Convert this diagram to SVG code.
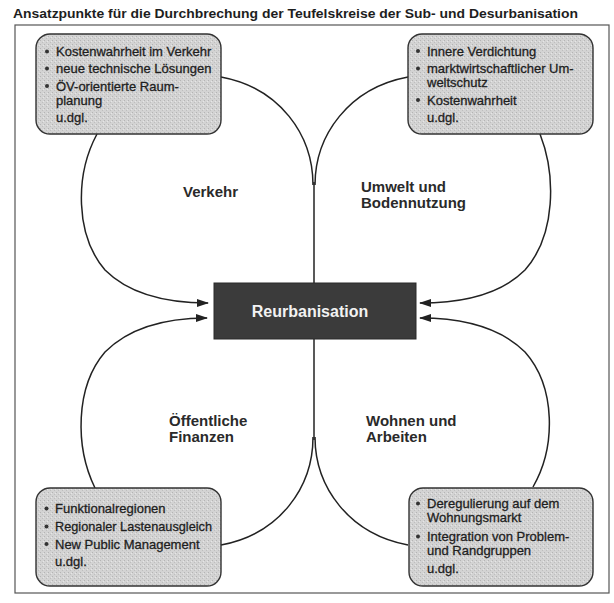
<svg xmlns="http://www.w3.org/2000/svg" width="614" height="603" viewBox="0 0 614 603">
<defs>
<pattern id="stip" width="4" height="4" patternUnits="userSpaceOnUse">
<rect width="4" height="4" fill="#d3d3d3"/>
<rect x="0" y="0" width="1" height="1" fill="#b4b4b4"/>
<rect x="2" y="2" width="1" height="1" fill="#bebebe"/>
<rect x="3" y="1" width="1" height="1" fill="#e6e6e6"/>
</pattern>
<marker id="ah" viewBox="0 0 12 8" refX="11" refY="4" markerWidth="12" markerHeight="8" markerUnits="userSpaceOnUse" orient="auto">
<path d="M0,0 L12,4 L0,8 Z" fill="#222"/>
</marker>
</defs>
<style>
.t{font-family:"Liberation Sans",Arial,sans-serif;fill:#1e1e1e}
.title{font-size:12px;font-weight:bold}
.item{font-size:13px;stroke:#1e1e1e;stroke-width:0.3}
.lab{font-size:15px;font-weight:bold;fill:#2a2a2a}
.box{fill:url(#stip);stroke:#333;stroke-width:1.4}
.dot{fill:#333}
.con{fill:none;stroke:#222;stroke-width:1.5}
.arr{fill:none;stroke:#222;stroke-width:1.5;marker-end:url(#ah)}
</style>
<rect width="614" height="603" fill="#ffffff"/>
<text class="t title" x="13" y="18" textLength="565" lengthAdjust="spacingAndGlyphs">Ansatzpunkte für die Durchbrechung der Teufelskreise der Sub- und Desurbanisation</text>
<rect x="15" y="25" width="594" height="568" fill="none" stroke="#555" stroke-width="1.2"/>

<g id="connectors">
<path class="con" d="M221,77 C280,88 313,135 313,185"/>
<path class="con" d="M408,77 C349,88 315,135 315,185"/>
<path class="con" d="M314,182 L314,283"/>
<path class="con" d="M221,545 C280,534 313,487 313,437"/>
<path class="con" d="M408,545 C349,534 315,487 315,437"/>
<path class="con" d="M314,339 L314,440"/>
<path class="arr" d="M97,134 C75,175 75,235 105,270 C130,295 168,303 208,303"/>
<path class="arr" d="M95,488 C75,447 75,387 105,352 C130,327 168,318 207,318"/>
<path class="arr" d="M540,134 C556,175 556,235 525,270 C500,295 462,303 420,303"/>
<path class="arr" d="M533,487 C556,447 556,387 525,352 C500,327 462,318 420,318"/>
</g>

<g id="center">
<rect x="214" y="283" width="202" height="56" fill="#3b3b3b" stroke="#2a2a2a" stroke-width="1"/>
<text class="t" x="310" y="317" text-anchor="middle" style="font-size:16px;font-weight:bold;fill:#f2f2f2">Reurbanisation</text>
</g>

<g id="box-tl">
<rect class="box" x="36" y="34" width="185" height="100" rx="14"/>
<circle class="dot" cx="47" cy="51.5" r="2"/>
<circle class="dot" cx="47" cy="68.5" r="2"/>
<circle class="dot" cx="47" cy="86" r="2"/>
<text class="t item" x="56" y="56">Kostenwahrheit im Verkehr</text>
<text class="t item" x="56" y="73">neue technische Lösungen</text>
<text class="t item" x="56" y="90.5">ÖV-orientierte Raum-</text>
<text class="t item" x="56" y="104.5">planung</text>
<text class="t item" x="56" y="122">u.dgl.</text>
</g>

<g id="box-tr">
<rect class="box" x="408" y="34" width="185" height="100" rx="14"/>
<circle class="dot" cx="418" cy="51" r="2"/>
<circle class="dot" cx="418" cy="68.5" r="2"/>
<circle class="dot" cx="418" cy="100" r="2"/>
<text class="t item" x="427" y="55.5">Innere Verdichtung</text>
<text class="t item" x="427" y="73">marktwirtschaftlicher Um-</text>
<text class="t item" x="427" y="86.5">weltschutz</text>
<text class="t item" x="427" y="104.5">Kostenwahrheit</text>
<text class="t item" x="427" y="122">u.dgl.</text>
</g>

<g id="box-bl">
<rect class="box" x="36" y="488" width="185" height="98" rx="14"/>
<circle class="dot" cx="46.5" cy="508.5" r="2"/>
<circle class="dot" cx="46.5" cy="526.5" r="2"/>
<circle class="dot" cx="46.5" cy="544" r="2"/>
<text class="t item" x="55" y="513">Funktionalregionen</text>
<text class="t item" x="55" y="531" textLength="157" lengthAdjust="spacingAndGlyphs">Regionaler Lastenausgleich</text>
<text class="t item" x="55" y="548.5">New Public Management</text>
<text class="t item" x="55" y="566">u.dgl.</text>
</g>

<g id="box-br">
<rect class="box" x="409" y="488" width="184" height="98" rx="14"/>
<circle class="dot" cx="418" cy="503.5" r="2"/>
<circle class="dot" cx="418" cy="536.5" r="2"/>
<text class="t item" x="427" y="508">Deregulierung auf dem</text>
<text class="t item" x="427" y="522">Wohnungsmarkt</text>
<text class="t item" x="427" y="541">Integration von Problem-</text>
<text class="t item" x="427" y="554.5">und Randgruppen</text>
<text class="t item" x="427" y="573">u.dgl.</text>
</g>

<g id="label-verkehr"><text class="t lab" x="183" y="197">Verkehr</text></g>
<g id="label-umwelt"><text class="t lab" x="361" y="192">Umwelt und</text><text class="t lab" x="361" y="208">Bodennutzung</text></g>
<g id="label-finanzen"><text class="t lab" x="169" y="426">Öffentliche</text><text class="t lab" x="169" y="442">Finanzen</text></g>
<g id="label-wohnen"><text class="t lab" x="366" y="426">Wohnen und</text><text class="t lab" x="366" y="442">Arbeiten</text></g>
</svg>
